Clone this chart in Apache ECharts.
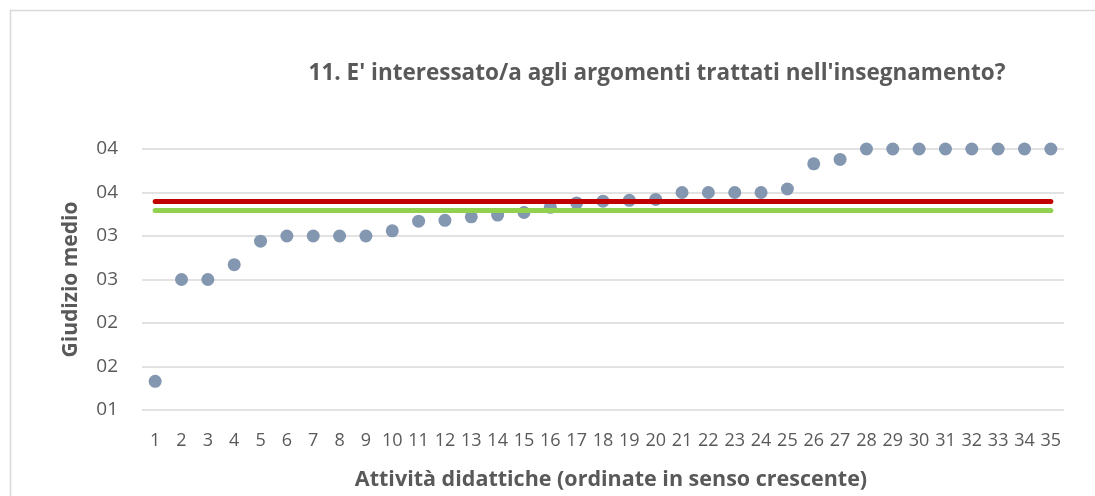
<!DOCTYPE html>
<html>
<head>
<meta charset="utf-8">
<script src="https://cdn.jsdelivr.net/npm/echarts@6/dist/echarts.min.js"></script>
<style>
  html, body { margin: 0; padding: 0; background: #fff; }
  #chart { width: 1095px; height: 496px; }
</style>
</head>
<body>
<div id="chart"></div>
<script>
// activities 1..35, sorted ascending
const activities = ['1', '2', '3', '4', '5', '6', '7', '8', '9', '10',
    '11', '12', '13', '14', '15', '16', '17', '18', '19', '20',
    '21', '22', '23', '24', '25', '26', '27', '28', '29', '30',
    '31', '32', '33', '34', '35']
const avgScores = [1.33, 2.5, 2.5, 2.67, 2.94, 3.0, 3.0, 3.0, 3.0, 3.06,
    3.17, 3.18, 3.22, 3.24, 3.27, 3.33, 3.38, 3.4, 3.41, 3.42,
    3.5, 3.5, 3.5, 3.5, 3.54, 3.83, 3.88, 4.0, 4.0, 4.0,
    4.0, 4.0, 4.0, 4.0, 4.0]
const redLevel = 3.405
const greenLevel = 3.297
const yTicks = { min: 1, max: 4, step: 0.5 }

const chart = echarts.init(document.getElementById('chart'))

const hLine = (value, color) => ({
    type: 'line',
    data: [],
    silent: true,
    markLine: {
        symbol: 'none',
        silent: true,
        label: { show: false },
        lineStyle: { color: color, width: 5, type: 'solid', cap: 'round' },
        data: [[
            { coord: [activities[0], value] },
            { coord: [activities[activities.length - 1], value] },
        ]],
    },
})

const option = {
    animation: false,
    title: {
        text: "11. E' interessato/a agli argomenti trattati nell'insegnamento?",
        left: 652,
        top: 57,
        textAlign: 'center',
        textStyle: {
            fontFamily: 'Open Sans',
            fontWeight: 'bold',
            fontSize: 22.5,
            color: '#595959',
        },
    },
    graphic: [{
        type: 'rect',
        shape: { x: 10.5, y: 10.5, width: 1090, height: 490 },
        style: { fill: 'none', stroke: '#d9d9d9', lineWidth: 1.5 },
        silent: true,
    }],
    grid: { left: 142, right: 31, top: 149, bottom: 86 },
    xAxis: {
        type: 'category',
        data: activities,
        boundaryGap: true,
        axisLine: { show: false },
        axisTick: { show: false },
        axisLabel: {
            interval: 0,
            margin: 22,
            fontFamily: 'Open Sans',
            fontSize: 18,
            color: '#595959',
        },
        name: 'Attività didattiche (ordinate in senso crescente)',
        nameLocation: 'middle',
        nameGap: 59,
        nameTextStyle: {
            fontFamily: 'Open Sans',
            fontWeight: 'bold',
            fontSize: 21.5,
            color: '#595959',
            padding: [0, 0, 0, 16],
        },
    },
    yAxis: {
        type: 'value',
        min: yTicks.min,
        max: yTicks.max,
        interval: yTicks.step,
        axisLine: { show: false },
        axisTick: { show: false },
        splitLine: { lineStyle: { color: '#d9d9d9', width: 1.5 } },
        axisLabel: {
            margin: 24,
            fontFamily: 'Open Sans',
            fontSize: 19,
            color: '#595959',
            formatter: (v) => String(Math.round(v)).padStart(2, '0'),
        },
        name: 'Giudizio medio',
        nameLocation: 'middle',
        nameGap: 60,
        nameTextStyle: {
            fontFamily: 'Open Sans',
            fontWeight: 'bold',
            fontSize: 21,
            color: '#595959',
        },
    },
    series: [
        hLine(redLevel, '#c00000'),
        hLine(greenLevel, '#92d050'),
        {
            type: 'scatter',
            data: avgScores,
            symbol: 'circle',
            symbolSize: 13,
            itemStyle: { color: '#8497b0', opacity: 1 },
            z: 3,
        },
    ],
}

chart.setOption(option)
</script>
</body>
</html>
